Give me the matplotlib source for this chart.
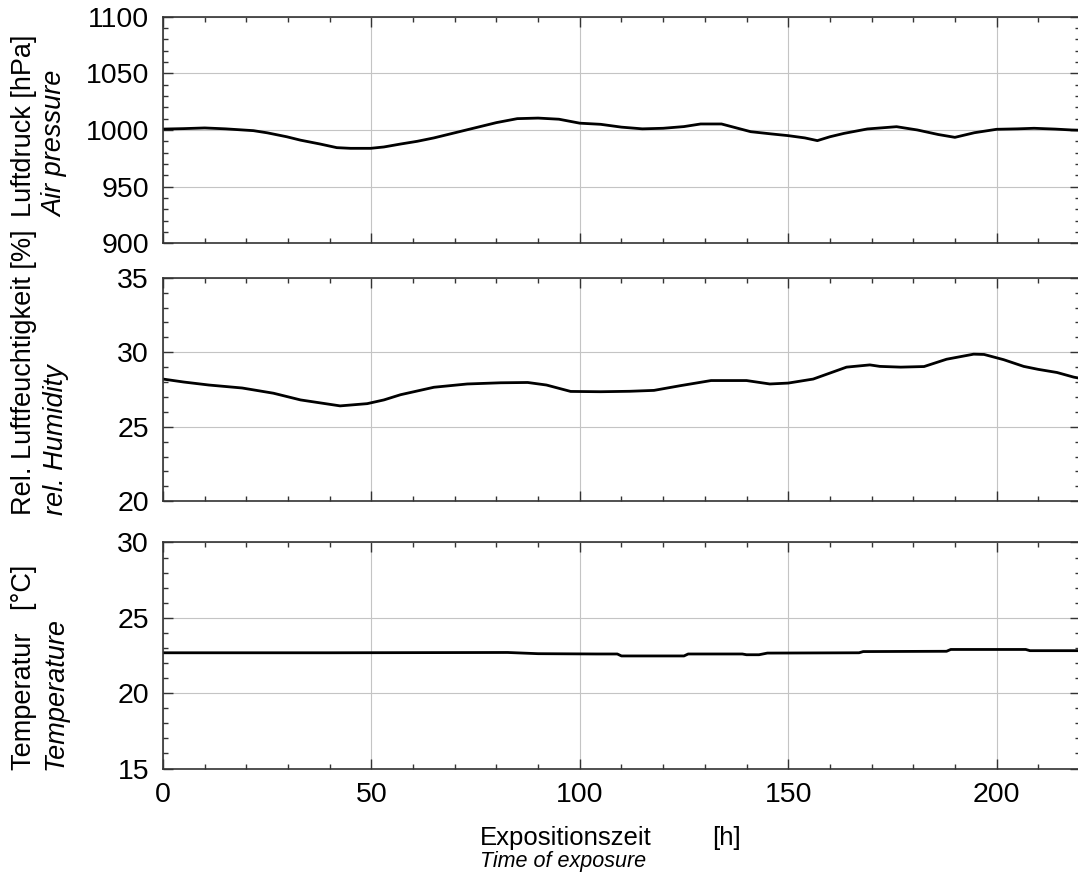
import matplotlib.pyplot as plt
from matplotlib.ticker import MultipleLocator

plt.rcParams['font.family'] = ['Liberation Sans', 'DejaVu Sans']

# Luftdruck / air pressure [hPa]
p_h = [0, 5, 10, 15, 21.7, 25, 29.7, 33, 37.7, 41.7, 45, 49.8, 53, 57, 61, 65, 70, 75, 80,
       85, 90, 95, 100, 105, 110, 115, 120, 125, 129, 134, 141, 146, 150, 154, 157, 160, 163.4,
       169, 176, 181, 186, 190, 194.7, 200, 205, 209, 214, 218, 220]
p_val = [1000.8, 1001.2, 1001.8, 1001, 999.4, 997.5, 994, 991, 987.6, 984.4, 983.8, 983.8, 985, 987.6,
         990, 993, 997.5, 1002, 1006.5, 1010, 1010.5, 1009.5, 1006, 1005, 1002.5, 1001, 1001.5, 1003,
         1005.3, 1005.3, 998.5, 996.5, 995, 993, 990.6, 994, 997, 1000.9, 1002.9, 1000, 996, 993.5,
         997.6, 1000.6, 1001, 1001.5, 1000.8, 1000, 999.8]

# relative Luftfeuchtigkeit [%]
rh_h = [0, 5, 11, 19, 26.5, 33, 42.5, 49, 53, 57, 65, 73, 81, 87.5, 92, 97.8, 105, 112, 117.8,
        124, 131.5, 140, 145.6, 150, 156, 160, 164, 169.6, 172, 177, 182.6, 188, 194.5, 197,
        201.7, 206.5, 210, 214.5, 218.5, 220]
rh_val = [28.2, 28.0, 27.8, 27.6, 27.25, 26.8, 26.4, 26.55, 26.8, 27.15, 27.65, 27.87, 27.95, 27.97,
          27.8, 27.37, 27.35, 27.38, 27.44, 27.75, 28.1, 28.1, 27.87, 27.93, 28.2, 28.6, 29.0, 29.15,
          29.05, 29.0, 29.04, 29.53, 29.87, 29.85, 29.5, 29.05, 28.85, 28.64, 28.33, 28.25]

# Temperatur [°C]
t_h = [0, 40, 82.7, 90, 104, 109, 110, 125, 126, 139, 140, 143, 145, 167, 168, 188, 189, 207,
       208, 220]
t_val = [22.68, 22.68, 22.7, 22.62, 22.6, 22.6, 22.47, 22.47, 22.6, 22.6, 22.55, 22.55, 22.66,
         22.68, 22.76, 22.78, 22.9, 22.9, 22.82, 22.82]

panels = [
    (p_h, p_val, (900, 1100), 50, 10, [0.1512, 0.7245, 0.8506, 0.2566]),
    (rh_h, rh_val, (20, 35), 5, 1, [0.1512, 0.4323, 0.8506, 0.2532]),
    (t_h, t_val, (15, 30), 5, 1, [0.1512, 0.1296, 0.8506, 0.2561]),
]

fig = plt.figure(figsize=(10.78, 8.83), dpi=100)
axes = []
for xs, ys, ylim, ymaj, ymin, rect in panels:
    ax = fig.add_axes(rect)
    ax.plot(xs, ys, color='black', lw=2.0)
    ax.set_xlim(0, 220)
    ax.set_ylim(*ylim)
    ax.xaxis.set_major_locator(MultipleLocator(50))
    ax.xaxis.set_minor_locator(MultipleLocator(10))
    ax.yaxis.set_major_locator(MultipleLocator(ymaj))
    ax.yaxis.set_minor_locator(MultipleLocator(ymin))
    ax.grid(True, which='major', color='#c4c4c4', lw=0.8)
    ax.tick_params(which='both', direction='in', top=True, right=True, color='#333333',
                   width=1.0, labelsize=20.5, pad=10)
    ax.tick_params(which='major', length=7)
    ax.tick_params(which='minor', length=3.6)
    for s in ax.spines.values():
        s.set_color('#333333')
        s.set_linewidth(1.2)
    axes.append(ax)

for ax in axes[:2]:
    ax.tick_params(labelbottom=False)

# y-Achsentitel (deutsch / englisch kursiv)
ylabels = [
    ('Luftdruck [hPa]', 'Air pressure', 0.7542),
    ('Rel. Luftfeuchtigkeit [%]', 'rel. Humidity', 0.4168),
    ('Temperatur   [°C]', 'Temperature', 0.128),
]
for de, en, yb in ylabels:
    fig.text(0.0222, yb, de, rotation=90, ha='center', va='bottom', fontsize=19.5)
    fig.text(0.0515, yb, en, rotation=90, ha='center', va='bottom', fontsize=19.5,
             style='italic')

fig.text(0.4453, 0.043, 'Expositionszeit', ha='left', va='baseline', fontsize=18.5)
fig.text(0.6605, 0.043, '[h]', ha='left', va='baseline', fontsize=18.5)
fig.text(0.4453, 0.018, 'Time of exposure', ha='left', va='baseline', fontsize=15.5,
         style='italic')

fig.savefig('out.png', dpi=100)
